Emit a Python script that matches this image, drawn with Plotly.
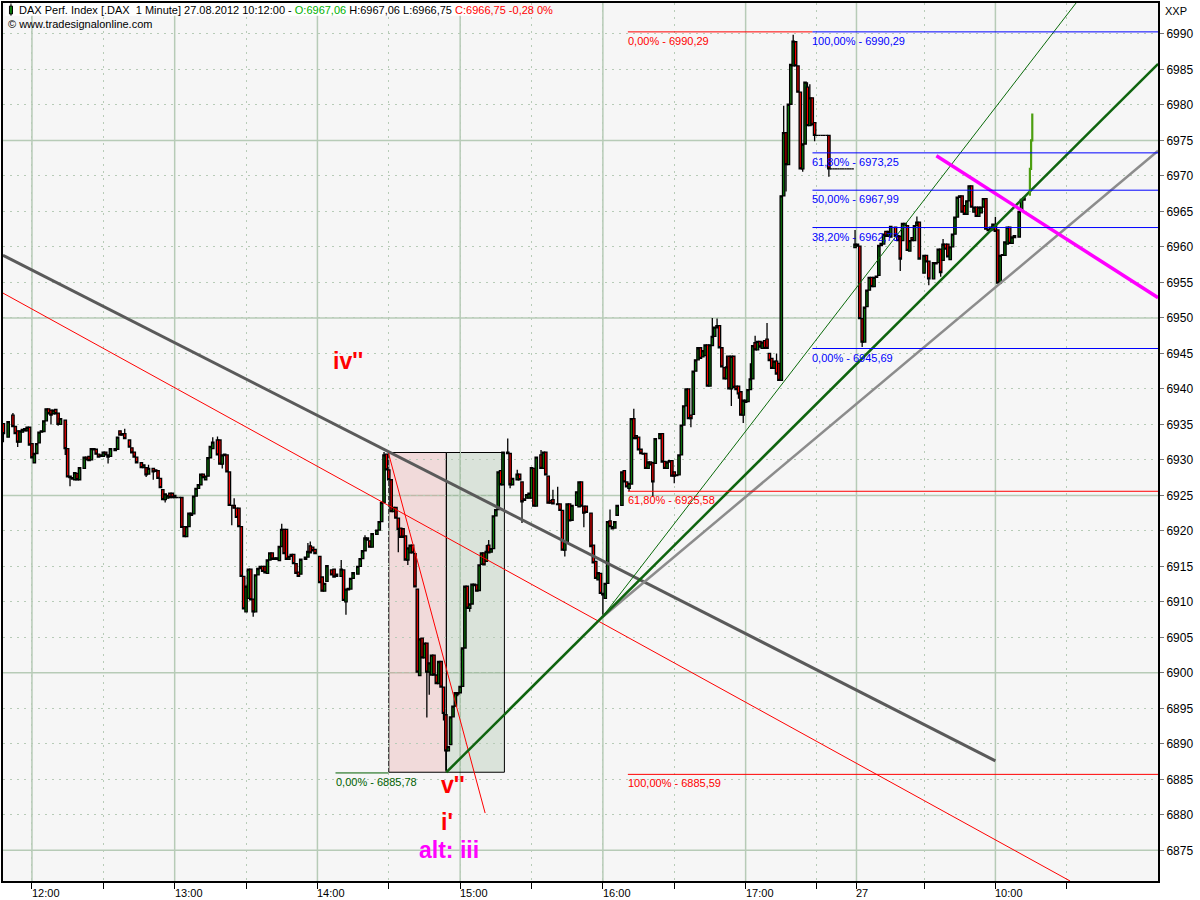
import plotly.graph_objects as go

# Candles: minutes counted from 12:00 on the chart's continuous time axis
minutes = [
 -12,-10,-8,-7,-6,-5,-4,-3,-2,-1,
 0,1,2,3,4,5,6,7,8,9,
 10,11,12,14,15,16,17,18,19,20,
 22,23,24,25,26,27,28,29,30,31,
 32,33,35,36,37,38,39,41,42,43,
 44,46,47,48,49,51,52,53,54,55,
 56,57,58,59,60,61,62,63,64,65,
 66,67,68,69,70,71,72,73,74,75,
 76,78,79,80,81,82,83,84,85,86,
 87,88,89,90,91,92,93,94,95,96,
 97,98,99,100,101,102,103,104,105,106,
 107,108,109,110,111,112,113,115,116,117,
 118,119,121,122,123,124,126,127,128,130,
 131,132,133,134,135,137,138,139,140,141,
 142,143,145,146,147,148,149,150,151,152,
 153,154,155,156,157,158,159,160,161,162,
 163,164,165,166,167,168,169,170,171,172,
 173,174,175,176,177,178,179,180,181,182,
 183,184,185,186,187,188,189,190,191,192,
 193,194,195,196,197,198,200,201,202,204,
 205,206,207,208,209,210,211,212,214,215,
 216,217,218,219,221,222,223,224,225,226,
 227,229,230,231,232,233,235,236,237,238,
 239,240,241,242,243,244,245,246,248,249,
 250,251,252,253,254,255,256,257,258,259,
 260,261,262,264,265,266,267,268,269,270,
 271,272,273,274,275,276,277,278,279,280,
 281,282,283,284,285,286,287,288,289,290,
 291,292,293,294,295,296,297,298,299,300,
 301,302,303,304,305,306,307,308,309,310,
 311,312,313,314,315,316,317,318,319,320,
 321,322,323,324,325,326,327,328,329,330,
 331,332,333,334,335,336,337,338,339,340,
 341,342,343,344,345,346,347,348,349,350,
 351,352,353,354,355,356,357,358,359,360,
 361,363,364,365,366,367,368,369,370,371,
 372,373,375,376,377,379,380,381,382,383,
 384,385,386,387,388,389,390,391,392,393,
 394,395,396,397,398,399,400,401,402,403,
 404,405,406,407,408,409,410,411,412,413,
 415,416,417]

opens = [
 6935.1,6933.2,6936.3,6934.7,6934.1,6932.5,6933.9,6934.1,6934.1,6934.6,
 6932.3,6929.6,6930.9,6932.4,6933.9,6934.0,6935.5,6937.2,6937.0,6936.5,
 6937.1,6936.6,6935.0,6935.6,6931.6,6927.7,6927.3,6927.2,6928.1,6927.2,
 6928.8,6930.4,6930.5,6930.0,6931.6,6931.5,6930.8,6930.5,6930.5,6931.1,
 6930.7,6930.5,6931.3,6931.5,6934.1,6933.7,6933.7,6932.8,6931.7,6931.1,
 6930.4,6929.6,6928.9,6928.9,6928.0,6928.8,6928.6,6928.5,6927.4,6925.8,
 6924.4,6924.6,6925.3,6925.3,6925.0,6924.7,6924.7,6924.7,6920.6,6919.2,
 6920.6,6922.5,6922.4,6924.9,6926.0,6926.5,6928.0,6927.2,6927.7,6930.3,
 6931.6,6932.8,6932.8,6929.4,6930.6,6930.7,6928.3,6923.6,6923.6,6923.2,
 6923.2,6920.6,6913.6,6908.6,6910.5,6914.6,6910.4,6908.6,6913.8,6914.7,
 6915.0,6915.0,6914.0,6915.9,6916.9,6916.0,6916.0,6915.8,6917.8,6920.2,
 6920.2,6916.0,6916.4,6916.7,6915.4,6914.2,6913.9,6916.0,6916.3,6917.9,
 6917.7,6917.4,6916.4,6913.5,6911.5,6912.9,6914.5,6914.6,6913.6,6913.6,
 6914.5,6910.0,6911.7,6911.8,6913.3,6913.9,6915.0,6916.1,6917.2,6919.0,
 6918.6,6917.7,6919.5,6920.1,6921.3,6924.0,6930.8,6928.6,6927.2,6922.7,
 6923.3,6921.8,6920.4,6920.3,6919.3,6915.9,6916.9,6918.0,6916.8,6911.8,
 6899.6,6904.9,6902.1,6904.2,6900.1,6899.7,6902.5,6899.7,6898.5,6901.6,
 6898.0,6894.1,6889.0,6889.9,6893.8,6895.3,6897.0,6897.2,6898.1,6903.5,
 6912.2,6909.1,6909.7,6912.3,6912.4,6911.6,6915.3,6916.9,6915.7,6918.0,
 6917.0,6917.5,6922.1,6923.0,6928.5,6926.5,6931.1,6930.9,6926.5,6927.2,
 6928.0,6926.9,6924.3,6924.6,6924.6,6924.6,6928.8,6923.5,6930.7,6928.8,
 6931.1,6927.7,6924.3,6924.4,6923.8,6923.8,6922.9,6917.3,6918.5,6923.8,
 6921.5,6923.6,6923.4,6926.9,6923.5,6923.5,6922.5,6918.0,6915.7,6913.1,
 6914.0,6911.2,6910.5,6912.6,6921.4,6920.6,6920.4,6922.2,6923.6,6928.5,
 6926.9,6926.0,6926.6,6935.8,6933.4,6933.2,6931.5,6930.9,6930.9,6928.8,
 6929.7,6929.6,6929.5,6933.0,6933.7,6929.8,6928.8,6929.7,6929.9,6928.3,
 6927.8,6927.9,6930.7,6934.9,6937.6,6940.0,6936.3,6936.4,6942.5,6944.1,
 6945.8,6944.5,6944.7,6946.2,6940.4,6946.1,6947.4,6948.6,6948.9,6945.8,
 6943.0,6941.4,6944.6,6940.0,6944.6,6940.4,6940.4,6939.6,6936.3,6938.4,
 6938.2,6939.9,6941.4,6946.5,6945.5,6946.7,6945.7,6946.8,6947.0,6945.0,
 6944.3,6942.9,6943.9,6943.6,6941.2,6967.2,6976.1,6971.6,6980.1,6985.5,
 6988.9,6985.5,6981.8,6971.0,6974.5,6982.5,6977.1,6981.0,6977.5,6975.7,
 6975.7,6975.7,6975.7,6975.7,6975.7,6971.0,6971.0,6971.0,6971.0,6971.0,
 6971.0,6971.0,6971.0,6971.0,6971.0,6959.9,6960.4,6960.1,6949.9,6946.6,
 6951.6,6953.9,6955.7,6954.4,6955.7,6956.0,6960.2,6960.4,6962.2,6961.5,
 6961.4,6962.8,6961.6,6961.5,6960.9,6963.3,6963.0,6959.4,6961.3,6960.9,
 6963.0,6963.5,6956.3,6958.8,6958.0,6955.5,6957.8,6957.8,6959.7,6958.1,
 6960.4,6960.4,6958.2,6960.0,6961.8,6964.2,6967.0,6967.2,6965.8,6964.6,
 6966.5,6968.6,6964.9,6965.6,6964.3,6964.8,6965.6,6966.8,6962.5,6962.3,
 6962.4,6963.0,6962.4,6954.9,6958.8,6958.8,6960.4,6962.8,6960.5,6961.6,
 6961.4,6965.0,6966.9]

closes = [
 6933.7,6935.4,6934.7,6933.7,6932.5,6934.1,6934.3,6934.4,6934.6,6932.1,
 6930.3,6930.9,6932.3,6933.9,6934.1,6935.5,6937.2,6936.5,6936.3,6937.0,
 6936.5,6935.0,6935.8,6931.6,6927.6,6927.5,6927.5,6928.2,6927.2,6928.9,
 6930.4,6930.0,6929.9,6931.6,6931.4,6930.8,6930.4,6930.7,6931.1,6930.7,
 6930.4,6931.6,6931.6,6933.2,6933.5,6933.5,6933.0,6931.8,6931.0,6930.4,
 6929.6,6928.9,6929.3,6927.9,6928.8,6928.3,6928.4,6927.4,6926.1,6924.4,
 6925.2,6925.0,6924.7,6924.7,6924.7,6924.7,6924.7,6920.5,6919.2,6920.6,
 6922.5,6922.2,6924.9,6926.0,6926.5,6928.0,6927.5,6927.7,6930.3,6931.9,
 6932.5,6930.7,6929.4,6930.7,6930.8,6928.3,6923.6,6923.6,6923.2,6921.9,
 6920.6,6913.6,6909.0,6912.2,6914.6,6910.3,6908.6,6913.8,6914.7,6915.0,
 6914.3,6914.1,6915.9,6916.9,6916.0,6916.2,6916.2,6917.8,6920.2,6916.8,
 6916.0,6916.4,6916.7,6915.4,6914.0,6913.6,6916.0,6916.3,6917.1,6916.9,
 6917.2,6916.8,6912.7,6911.5,6912.6,6915.1,6913.8,6913.5,6913.9,6914.6,
 6910.2,6911.8,6911.9,6913.3,6914.1,6915.0,6916.1,6917.2,6919.0,6918.7,
 6917.7,6919.6,6920.1,6921.3,6924.0,6930.7,6928.6,6927.2,6922.7,6923.3,
 6921.8,6920.2,6919.1,6919.1,6915.9,6917.6,6918.0,6916.9,6912.1,6900.1,
 6904.8,6902.1,6904.2,6900.1,6901.4,6902.5,6899.7,6898.5,6901.6,6898.0,
 6894.3,6889.0,6889.6,6893.8,6895.3,6897.2,6897.2,6898.1,6903.5,6912.2,
 6909.1,6909.7,6912.5,6912.5,6911.5,6915.2,6916.9,6915.2,6917.1,6916.9,
 6917.5,6922.1,6923.0,6928.3,6926.5,6931.1,6930.9,6926.5,6927.4,6928.0,
 6927.2,6924.1,6924.5,6925.1,6925.3,6928.9,6923.5,6930.4,6928.8,6931.1,
 6927.9,6923.9,6923.9,6923.8,6923.7,6922.9,6917.3,6918.5,6923.8,6921.4,
 6923.6,6925.5,6926.9,6923.5,6922.5,6922.6,6917.8,6915.5,6913.3,6914.1,
 6911.2,6911.0,6912.6,6921.3,6920.6,6920.3,6921.3,6923.6,6928.3,6926.9,
 6926.2,6926.7,6935.8,6933.0,6933.0,6931.4,6930.9,6930.8,6928.8,6929.7,
 6929.3,6926.9,6933.0,6933.7,6929.7,6928.8,6929.7,6929.9,6927.7,6927.7,
 6927.9,6930.7,6934.9,6937.6,6940.0,6935.8,6935.8,6942.5,6944.1,6945.8,
 6944.3,6945.4,6946.2,6940.4,6946.2,6947.4,6948.7,6948.9,6945.8,6943.1,
 6941.4,6943.1,6940.0,6944.6,6940.2,6939.9,6939.3,6936.3,6938.4,6938.1,
 6939.9,6941.4,6946.1,6945.5,6946.7,6945.9,6946.6,6945.7,6945.7,6944.0,
 6942.9,6943.9,6942.1,6941.2,6967.2,6976.1,6971.6,6980.1,6985.7,6989.0,
 6985.5,6981.8,6971.0,6974.5,6983.2,6977.1,6981.0,6977.2,6975.7,6975.7,
 6975.7,6975.7,6975.7,6975.7,6971.0,6971.0,6971.0,6971.0,6971.0,6971.0,
 6971.0,6971.0,6971.0,6971.0,6971.0,6960.4,6960.1,6949.9,6946.6,6951.5,
 6953.9,6955.7,6954.4,6955.7,6955.9,6960.2,6960.5,6961.8,6961.5,6962.2,
 6962.9,6961.5,6960.9,6958.3,6963.3,6963.0,6959.5,6960.9,6960.9,6963.0,
 6963.5,6958.3,6958.8,6957.9,6955.5,6957.8,6957.6,6959.7,6956.4,6960.4,
 6959.7,6958.6,6960.0,6961.8,6964.2,6967.0,6967.2,6964.9,6964.6,6966.5,
 6968.6,6965.6,6965.6,6964.3,6965.6,6965.6,6966.8,6962.5,6962.3,6962.8,
 6963.2,6962.2,6954.9,6958.8,6958.9,6960.7,6962.8,6960.5,6961.4,6961.3,
 6965.0,6966.7,6966.6]

# Wick extremes where they stick out of the body
high_minutes = [-8,39,49,76,78,85,105,116,117,130,140,148,191,192,200,204,214,219,221,243,
                253,286,288,292,302,304,309,313,316,320,326,327,346,372,383,405]
high_prices = [6936.6,6934.4,6929.3,6933.2,6933.3,6924.6,6921.0,6918.3,6918.5,6915.9,6919.4,6931.1,
               6918.0,6918.7,6933.0,6928.6,6931.4,6925.8,6926.2,6923.0,6937.2,6950.0,6949.9,6944.7,
               6943.6,6947.5,6949.3,6945.0,6979.9,6989.9,6983.2,6982.9,6962.4,6964.3,6961.1,6964.2]
low_minutes = [-12,-6,8,11,14,16,28,32,48,51,56,80,84,93,132,154,158,166,167,173,174,179,184,201,
               206,224,232,240,251,261,270,277,294,297,299,317,324,329,335,349,365,377,382]
low_prices = [6932.5,6931.8,6935.0,6934.8,6930.7,6926.3,6930.3,6929.5,6927.6,6927.2,6924.0,6928.8,
              6920.8,6907.9,6908.2,6917.0,6915.2,6893.7,6896.9,6893.3,6886.2,6896.7,6908.6,6926.0,
              6921.1,6916.4,6920.5,6908.2,6925.6,6924.8,6926.7,6934.6,6937.6,6938.6,6935.2,6967.8,
              6970.6,6974.9,6969.9,6945.9,6956.6,6954.6,6955.8]

last_minutes = [419.5,419.5,420,420,420.5,420.5]
last_prices = [6967.2,6971.0,6971.0,6975.0,6975.0,6978.8]

# Trend lines: start and end
grey_dark_t, grey_dark_p = [-12.2,405], [6958.83,6887.6]
red_long_t, red_long_p = [-12.2,436.4], [6953.5,6870.68]
red_steep_t, red_steep_p = [149.8,190.5], [6931.04,6880.25]
green_thick_t, green_thick_p = [174.2,473.4], [6886.0,6985.78]
green_thin_t, green_thin_p = [239.6,438.9], [6907.8,6994.36]
grey_mid_t, grey_mid_p = [239.6,473.4], [6907.8,6973.54]
magenta_t, magenta_p = [380.2,473.4], [6972.83,6952.85]

# Fibonacci levels: label, price, start, end, label colour
fib_levels = [
    ("0,00% - 6990,29", 6990.29, 250.5, 328.1, "#ff0000"),
    ("61,80% - 6925,58", 6925.58, 250.5, 473.4, "#ff0000"),
    ("100,00% - 6885,59", 6885.7, 250.5, 473.4, "#ff0000"),
    ("100,00% - 6990,29", 6990.29, 328.1, 473.4, "#0000ff"),
    ("61,80% - 6973,25", 6973.25, 328.1, 473.4, "#0000ff"),
    ("50,00% - 6967,99", 6967.99, 328.1, 473.4, "#0000ff"),
    ("38,20% - 6962,73", 6962.73, 328.1, 473.4, "#0000ff"),
    ("0,00% - 6945,69", 6945.69, 328.1, 473.4, "#0000ff"),
    ("0,00% - 6885,78", 6885.9, 127.6, 149.8, "#005f00"),
]

rect_low, rect_high = 6886.0, 6931.04
rect_left, rect_mid, rect_right = 150.0, 174.2, 198.6

hour_minutes = [0,60,120,180,240,300,346.6,405]
hour_labels = ["12:00","13:00","14:00","15:00","16:00","17:00","27","10:00"]
half_minutes = [30,90,150,210,270,330,375,435]
solid_prices = [6875,6900,6925,6950,6975]

wave_labels = [("iv''", 133.0, 6944.0, "#ff0000"), ("v''", 177.2, 6884.2, "#ff0000"),
               ("i'", 174.4, 6879.0, "#ff0000"), ("alt: iii", 175.4, 6875.0, "#ff00ff")]

x_range = [-12.17, 473.35]
y_range = [6870.68, 6994.36]
GRID = "#b7cbb7"

high_map = dict(zip(high_minutes, high_prices))
low_map = dict(zip(low_minutes, low_prices))
highs = [max(o, c, high_map.get(t, o)) for t, o, c in zip(minutes, opens, closes)]
lows = [min(o, c, low_map.get(t, o)) for t, o, c in zip(minutes, opens, closes)]

fig = go.Figure()
fig.add_trace(go.Candlestick(
    x=minutes, open=opens, high=highs, low=lows, close=closes,
    increasing=dict(line=dict(color="#000000", width=1.3), fillcolor="#0a7a0a"),
    decreasing=dict(line=dict(color="#000000", width=1.3), fillcolor="#ff0000"),
    whiskerwidth=0, showlegend=False, hoverinfo="skip"))

def line(x, y, color, width):
    fig.add_trace(go.Scatter(x=x, y=y, mode="lines", line=dict(color=color, width=width),
                             showlegend=False, hoverinfo="skip"))

line(red_long_t, red_long_p, "#ff0000", 1)
line(red_steep_t, red_steep_p, "#ff0000", 1)
line(grey_dark_t, grey_dark_p, "#5a5a5a", 3)
line(green_thin_t, green_thin_p, "#0a6a0a", 1)
line(grey_mid_t, grey_mid_p, "#8c8c8c", 2.5)
line(green_thick_t, green_thick_p, "#0f640f", 2.5)
line(magenta_t, magenta_p, "#ff00ff", 3.5)
line(last_minutes, last_prices, "#4c9e10", 2.2)

shapes = []
for p in solid_prices:
    shapes.append(dict(type="line", xref="paper", x0=0, x1=1, yref="y", y0=p, y1=p,
                       line=dict(color=GRID, width=1.5), layer="below"))
for t in hour_minutes:
    shapes.append(dict(type="line", yref="paper", y0=0, y1=1, xref="x", x0=t, x1=t,
                       line=dict(color=GRID, width=1.5), layer="below"))
shapes.append(dict(type="rect", x0=rect_left, x1=rect_mid, y0=rect_low, y1=rect_high,
                   fillcolor="rgba(225,120,120,0.22)", line=dict(color="#000000", width=1), layer="below"))
shapes.append(dict(type="rect", x0=rect_mid, x1=rect_right, y0=rect_low, y1=rect_high,
                   fillcolor="rgba(60,120,60,0.15)", line=dict(color="#000000", width=1), layer="below"))

# Header: white strip and legend glyph
shapes.append(dict(type="rect", xref="paper", yref="paper", x0=0.002, x1=0.4165, y0=0.9855, y1=1,
                   fillcolor="#ffffff", line=dict(width=0), layer="above"))
shapes.append(dict(type="line", xref="paper", yref="paper", x0=0.0069, x1=0.0069, y0=0.9855, y1=0.9995,
                   line=dict(color="#000000", width=1), layer="above"))
shapes.append(dict(type="rect", xref="paper", yref="paper", x0=0.0056, x1=0.0082, y0=0.9875, y1=0.9965,
                   fillcolor="#0a7a0a", line=dict(color="#000000", width=1), layer="above"))
fig.update_layout(shapes=shapes)

FONT = "Liberation Sans"
ann = []
for label, price, t0, t1, color in fib_levels:
    line([t0, t1], [price, price], color, 1)
    ann.append(dict(x=t0, y=price, text=label, xref="x", yref="y", xanchor="left", yanchor="top",
                    yshift=-1, xshift=-2, showarrow=False, font=dict(family=FONT, size=11, color=color)))
for t, label in zip(hour_minutes, hour_labels):
    ann.append(dict(x=t, y=0, text=label, xref="x", yref="paper", xanchor="left", yanchor="top",
                    yshift=-4, xshift=-2, showarrow=False, font=dict(family=FONT, size=11, color="#000000")))
for label, t, price, color in wave_labels:
    ann.append(dict(x=t, y=price, text="<b>%s</b>" % label, xref="x", yref="y", xanchor="center", yanchor="middle",
                    showarrow=False, font=dict(family=FONT, size=23, color=color)))
header = ("DAX Perf. Index [.DAX  1 Minute] 27.08.2012 10:12:00 - "
          "<span style='color:#00b000'>O:6967,06</span> H:6967,06 L:6966,75 "
          "<span style='color:#ff0000'>C:6966,75 -0,28 0%</span>")
ann.append(dict(x=0.0125, y=1, text=header, xref="paper", yref="paper", xanchor="left", yanchor="top",
                yshift=1, showarrow=False, font=dict(family=FONT, size=11, color="#000000")))
ann.append(dict(x=0.0025, y=0.9855, text="© www.tradesignalonline.com", xref="paper", yref="paper", xanchor="left",
                yanchor="top", showarrow=False, font=dict(family=FONT, size=11, color="#000000")))
ann.append(dict(x=1, y=1, text="XXP", xref="paper", yref="paper", xanchor="left", yanchor="top",
                xshift=5, showarrow=False, font=dict(family=FONT, size=11, color="#000000")))

fig.update_layout(
    width=1200, height=900, autosize=False,
    margin=dict(l=1, r=42, t=2, b=19),
    paper_bgcolor="#ffffff", plot_bgcolor="#f6f6f6",
    boxgap=0, boxgroupgap=0,
    annotations=ann, showlegend=False, hovermode=False,
    xaxis=dict(range=x_range, rangeslider=dict(visible=False), tickmode="array",
               tickvals=hour_minutes + half_minutes, ticktext=[""] * 16,
               ticks="outside", ticklen=6, tickcolor="#000000", tickwidth=1,
               showgrid=True, gridcolor=GRID, griddash="2px,5px", gridwidth=1,
               showline=True, linecolor="#000000", linewidth=2, mirror=True, zeroline=False),
    yaxis=dict(range=y_range, side="right", dtick=5, tick0=6875,
               ticks="outside", ticklen=4, tickcolor="#777777", tickwidth=1,
               tickfont=dict(family=FONT, size=12, color="#000000"),
               showgrid=True, gridcolor=GRID, griddash="2px,5px", gridwidth=1,
               showline=True, linecolor="#000000", linewidth=2, mirror=True, zeroline=False),
)
fig.write_html("out.html", config={"displayModeBar": False},
               post_script="document.body.style.margin='0';")
